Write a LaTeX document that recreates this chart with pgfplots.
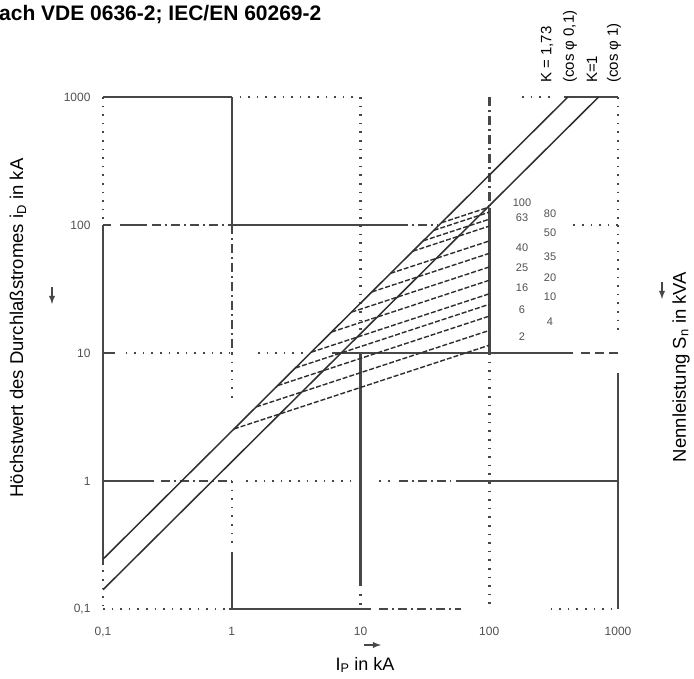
\documentclass[border=0pt]{standalone}
\usepackage{fontspec}
\setmainfont{Liberation Sans}
\usepackage{pgfplots}
\pgfplotsset{compat=1.18}

\definecolor{gridc}{HTML}{474747}
\definecolor{linec}{HTML}{2E2E2E}
\definecolor{labc}{HTML}{505050}

% grid line styles of the printed chart
\tikzset{
  gs/.style={draw=gridc, line width=2.5pt},
  gd/.style={draw=gridc, line width=2.5pt, dash pattern=on 1.6pt off 7pt},
  gdd/.style={draw=gridc, line width=2.5pt, dash pattern=on 9pt off 4pt on 2pt off 4pt},
  gda/.style={draw=gridc, line width=2.5pt, dash pattern=on 9pt off 5pt},
  diag/.style={draw=linec, line width=1.5pt},
  fan/.style={draw=linec, line width=1.4pt, dash pattern=on 5pt off 2pt},
}

\begin{document}
\begin{tikzpicture}
\path[use as bounding box] (0pt,0pt) rectangle (694pt,679pt);

\begin{axis}[
  at={(103pt,70pt)}, anchor=south west,
  scale only axis, width=515pt, height=512pt,
  xmode=log, ymode=log,
  xmin=0.1, xmax=1000, ymin=0.1, ymax=1000,
  axis line style={draw=none},
  major tick length=0pt, xminorticks=false, yminorticks=false,
  xtick={0.1,1,10,100,1000}, ytick={0.1,1,10,100,1000},
  xticklabels={{0,1},1,10,100,1000},
  yticklabels={{0,1},1,10,100,1000},
  tick label style={font=\fontsize{12}{12}\selectfont, text=labc},
  xticklabel style={yshift=-15pt},
  yticklabel style={xshift=-9pt},
  clip=false,
]

% ---- horizontal grid lines ----
% 1000
\addplot[gs]  coordinates {(0.1,1000) (1,1000)};
\addplot[gd]  coordinates {(1.15,1000) (9,1000)};
\addplot[gd]  coordinates {(180,1000) (300,1000)};
\addplot[gs]  coordinates {(380,1000) (1000,1000)};
% 100
\addplot[gs]  coordinates {(0.1,100) (0.115,100)};
\addplot[gs]  coordinates {(0.135,100) (0.22,100)};
\addplot[gdd] coordinates {(0.24,100) (0.95,100)};
\addplot[gs]  coordinates {(0.95,100) (20,100)};
\addplot[gdd] coordinates {(20,100) (40,100)};
\addplot[gd]  coordinates {(450,100) (1000,100)};
% 10
\addplot[gs]  coordinates {(0.1,10) (0.125,10)};
\addplot[gd]  coordinates {(0.15,10) (1,10)};
\addplot[gd]  coordinates {(1.6,10) (4,10)};
\addplot[gs]  coordinates {(6,10) (450,10)};
\addplot[gda] coordinates {(520,10) (1000,10)};
% 1
\addplot[gs]  coordinates {(0.1,1) (0.25,1)};
\addplot[gdd] coordinates {(0.28,1) (1,1)};
\addplot[gd]  coordinates {(1.3,1) (9,1)};
\addplot[gd]  coordinates {(14,1) (17,1)};
\addplot[gdd] coordinates {(20,1) (50,1)};
\addplot[gs]  coordinates {(55,1) (1000,1)};
% 0.1
\addplot[gd]  coordinates {(0.1,0.1) (0.95,0.1)};
\addplot[gs]  coordinates {(0.95,0.1) (12,0.1)};
\addplot[gdd] coordinates {(14,0.1) (60,0.1)};
\addplot[gd]  coordinates {(300,0.1) (1000,0.1)};

% ---- vertical grid lines ----
% 0.1
\addplot[gd]  coordinates {(0.1,1000) (0.1,110)};
\addplot[gs]  coordinates {(0.1,100) (0.1,0.22)};
\addplot[gd]  coordinates {(0.1,0.2) (0.1,0.1)};
% 1
\addplot[gs]  coordinates {(1,1000) (1,100)};
\addplot[gdd] coordinates {(1,100) (1,10)};
\addplot[gd]  coordinates {(1,10) (1,4)};
\addplot[gd]  coordinates {(1,1) (1,0.3)};
\addplot[gs]  coordinates {(1,0.28) (1,0.1)};
% 10
\addplot[gd]  coordinates {(10,1000) (10,100)};
\addplot[gd]  coordinates {(10,100) (10,15)};
\addplot[gs]  coordinates {(10,10) (10,0.15)};
\addplot[gd]  coordinates {(10,0.13) (10,0.1)};
% 100
\addplot[gdd] coordinates {(100,1000) (100,140)};
\addplot[gs]  coordinates {(100,135) (100,10)};
\addplot[gd]  coordinates {(100,10) (100,0.1)};
% 1000
\addplot[gd]  coordinates {(1000,1000) (1000,100)};
\addplot[gd]  coordinates {(1000,100) (1000,15)};
\addplot[gs]  coordinates {(1000,7) (1000,0.1)};

% ---- limit lines i_D = K * sqrt(2) * I_P ----
\addplot[diag] coordinates {(0.1,0.245) (408.2,1000)};  % K = 1,73
\addplot[diag] coordinates {(0.1,0.1414) (707.1,1000)}; % K = 1

% ---- cut-off characteristics of the fuse links ----
\addplot[fan] coordinates {(42.5,104.1) (100,138)};
\addplot[fan] coordinates {(37.07,90.8) (100,126)};
\addplot[fan] coordinates {(30.68,75.2) (100,111)};
\addplot[fan] coordinates {(25.48,62.4) (100,98)};
\addplot[fan] coordinates {(17.09,41.9) (100,75)};
\addplot[fan] coordinates {(12.25,30.0) (100,60)};
\addplot[fan] coordinates {(8.51,20.85) (100,47)};
\addplot[fan] coordinates {(5.95,14.58) (100,37)};
\addplot[fan] coordinates {(4.14,10.14) (100,29)};
\addplot[fan] coordinates {(3.12,7.64) (100,24)};
\addplot[fan] coordinates {(2.271,5.56) (100,19.4)};
\addplot[fan] coordinates {(1.548,3.79) (100,15)};
\addplot[fan] coordinates {(1.041,2.55) (100,11.5)};

% ---- rated currents of the fuse links ----
\begin{scope}[every node/.style={font=\fontsize{11}{11}\selectfont, text=labc, inner sep=0}]
\node at (rel axis cs:0.8136,0.793) {100};
\node at (rel axis cs:0.8136,0.764) {63};
\node at (rel axis cs:0.8136,0.705) {40};
\node at (rel axis cs:0.8136,0.666) {25};
\node at (rel axis cs:0.8136,0.627) {16};
\node at (rel axis cs:0.8136,0.584) {6};
\node at (rel axis cs:0.8136,0.531) {2};
\node at (rel axis cs:0.868,0.773) {80};
\node at (rel axis cs:0.868,0.734) {50};
\node at (rel axis cs:0.868,0.6875) {35};
\node at (rel axis cs:0.868,0.6465) {20};
\node at (rel axis cs:0.868,0.609) {10};
\node at (rel axis cs:0.868,0.5605) {4};
\end{scope}
\end{axis}

% ---- title and axis titles ----
\node[anchor=base west, inner sep=0, font=\bfseries\fontsize{21}{21}\selectfont]
  at (-1pt,658pt) {ach VDE 0636-2; IEC/EN 60269-2};
\node[rotate=90, inner sep=0, font=\fontsize{18.5}{18.5}\selectfont]
  at (18pt,351pt) {Höchstwert des Durchlaßstromes i\textsubscript{D} in kA};
\node[rotate=90, inner sep=0, font=\fontsize{18.5}{18.5}\selectfont]
  at (681pt,312pt) {Nennleistung S\textsubscript{n} in kVA};
\node[inner sep=0, font=\fontsize{18}{18}\selectfont]
  at (365pt,14pt) {I\textsubscript{P} in kA};

% ---- curve labels at the top ----
\begin{scope}[every node/.style={rotate=90, anchor=west, inner sep=0, font=\fontsize{15}{15}\selectfont}]
\node at (547pt,596pt) {K = 1,73};
\node at (570pt,596pt) {(cos φ 0,1)};
\node at (592pt,596pt) {K=1};
\node at (614pt,596pt) {(cos φ 1)};
\end{scope}

% ---- direction arrows ----
\draw[gridc, line width=1.8pt, -latex] (52pt,392pt) -- (52pt,375pt);
\draw[gridc, line width=1.8pt, -latex] (662pt,397pt) -- (662pt,380pt);
\draw[gridc, line width=1.8pt, -latex] (364pt,34pt) -- (381pt,34pt);
\end{tikzpicture}
\end{document}
